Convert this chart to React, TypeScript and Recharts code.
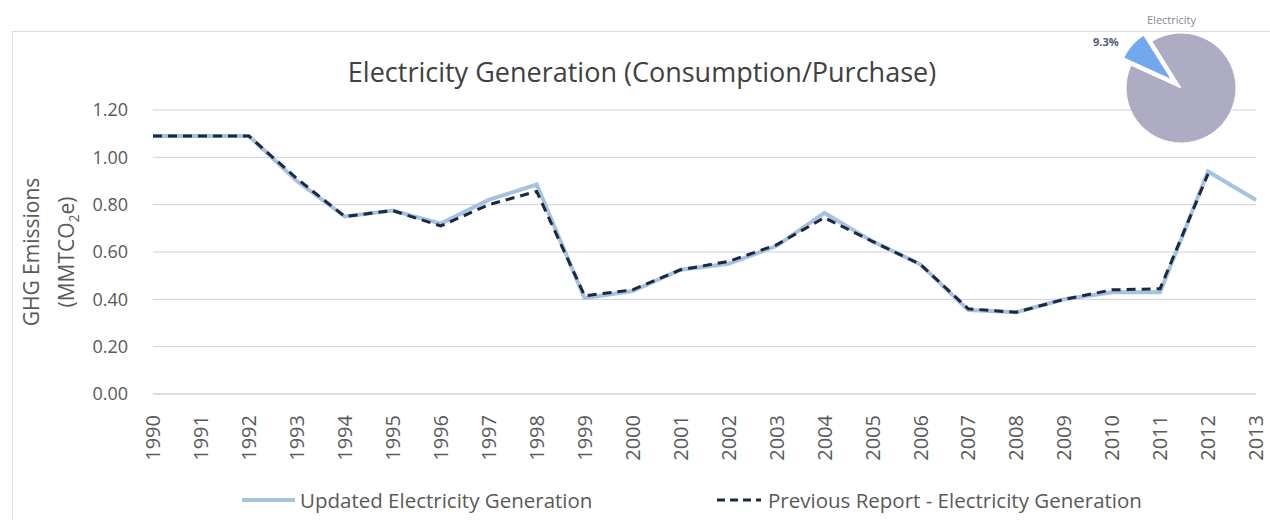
import React from 'react';
import { LineChart, Line, XAxis, YAxis, CartesianGrid, Legend, PieChart, Pie, Cell } from 'recharts';

const years = ['1990','1991','1992','1993','1994','1995','1996','1997','1998','1999','2000','2001','2002','2003','2004','2005','2006','2007','2008','2009','2010','2011','2012','2013'];
const updatedValues = [1.09,1.09,1.09,0.90,0.75,0.775,0.72,0.82,0.885,0.405,0.435,0.525,0.55,0.625,0.765,0.645,0.548,0.355,0.345,0.40,0.43,0.43,0.94,0.82];
const previousValues: (number | null)[] = [1.09,1.09,1.09,0.91,0.75,0.775,0.71,0.80,0.856,0.415,0.44,0.525,0.56,0.63,0.745,0.645,0.548,0.36,0.345,0.40,0.44,0.445,0.93,null];
const yTicks = [0, 0.2, 0.4, 0.6, 0.8, 1.0, 1.2];
const seriesNames = ['Updated Electricity Generation', 'Previous Report - Electricity Generation'];
const pieNames = ['Electricity', 'Other'];
const pieValues = [9.3, 90.7];

const FONT = '"Open Sans", "DejaVu Sans", sans-serif';
const UPDATED_COLOR = '#a6c2e2';
const PREVIOUS_COLOR = '#1c2840';

const data = years.map((y, i) => ({ year: y, updated: updatedValues[i], previous: previousValues[i] }));
const pieData = pieNames.map((n, i) => ({ name: n, value: pieValues[i] }));

const XTick = (props: any) => {
  const { x, y, payload } = props;
  return (
    <g transform={`translate(${x},${y})`}>
      <text transform="rotate(-90)" x={-21} y={0} dy="0.36em" textAnchor="end" fill="#595959" fontSize={20} fontFamily={FONT}>
        {payload.value}
      </text>
    </g>
  );
};

const LegendContent = (props: any) => {
  const { payload } = props;
  const items = payload || [];
  const order = ['updated', 'previous'];
  const pos = [{ line: 242, len: 53, text: 300 }, { line: 717, len: 44, text: 768 }];
  return (
    <div style={{ position: 'relative', width: 1270, height: 40, fontFamily: FONT, fontSize: 20.5, color: '#595959' }}>
      {order.map((key, i) => {
        const it = items.find((p: any) => p.dataKey === key);
        if (!it) return null;
        return (
          <div key={key}>
            <svg style={{ position: 'absolute', left: pos[i].line, top: 12 }} width={pos[i].len} height={16}>
              <line x1={0} y1={8} x2={pos[i].len} y2={8} stroke={it.color} strokeWidth={i === 0 ? 4 : 3} strokeDasharray={i === 0 ? undefined : '8 5'} />
            </svg>
            <span style={{ position: 'absolute', left: pos[i].text, top: 6, whiteSpace: 'nowrap', lineHeight: '28px' }}>{it.value}</span>
          </div>
        );
      })}
    </div>
  );
};

export default function App() {
  return (
    <div style={{ position: 'absolute', left: 0, top: 0, width: 1270, height: 520, background: '#fff', overflow: 'hidden' }}>
      <div style={{ position: 'absolute', left: 12, top: 31, width: 1258, height: 489, borderLeft: '1px solid #dcdcdc', borderTop: '1px solid #dcdcdc' }} />
      <div style={{ position: 'absolute', left: 292, top: 55, width: 700, textAlign: 'center', fontFamily: FONT, fontSize: 27, lineHeight: '34px', color: '#404040', whiteSpace: 'nowrap' }}>
        Electricity Generation (Consumption/Purchase)
      </div>
      <div style={{ position: 'absolute', left: 0, top: 0 }}>
        <LineChart width={1270} height={520} data={data} margin={{ top: 110, right: 14, bottom: 0, left: 0 }}>
          <CartesianGrid vertical={false} stroke="#cfcfdc" />
          <XAxis dataKey="year" height={86} tick={<XTick />} tickLine={false} tickSize={0} tickMargin={0} axisLine={{ stroke: '#cfcfdc' }} interval={0} />
          <YAxis width={153} domain={[0, 1.2]} ticks={yTicks} tickFormatter={(v: number) => v.toFixed(2)} axisLine={false} tickLine={false} tickSize={0} tickMargin={25} tick={{ fill: '#595959', fontSize: 18, fontFamily: FONT }} />
          <Legend verticalAlign="bottom" height={40} content={<LegendContent />} wrapperStyle={{ left: 0, width: 1270, height: 40 }} />
          <Line type="linear" dataKey="updated" name={seriesNames[0]} stroke={UPDATED_COLOR} strokeWidth={4} dot={false} isAnimationActive={false} />
          <Line type="linear" dataKey="previous" name={seriesNames[1]} stroke={PREVIOUS_COLOR} strokeWidth={3} strokeDasharray="9 6" dot={false} isAnimationActive={false} />
        </LineChart>
      </div>
      <svg style={{ position: 'absolute', left: 0, top: 0, pointerEvents: 'none' }} width={100} height={520}>
        <text transform="rotate(-90, 32, 252)" x={32} y={252} dy="0.35em" textAnchor="middle" fill="#595959" fontSize={21} fontFamily={FONT}>GHG Emissions</text>
        <text transform="rotate(-90, 67, 252)" x={67} y={252} dy="0.35em" textAnchor="middle" fill="#595959" fontSize={21} fontFamily={FONT}>
          <tspan>(MMTCO</tspan><tspan fontSize={14} dy={5}>2</tspan><tspan dy={-5}>e)</tspan>
        </text>
      </svg>
      <div style={{ position: 'absolute', left: 1101, top: 13 }}>
        <PieChart width={160} height={150} margin={{ top: 0, right: 0, bottom: 0, left: 0 }}>
          <Pie data={pieData} dataKey="value" nameKey="name" cx={80} cy={75} outerRadius={55} startAngle={122} endAngle={482} stroke="#ffffff" strokeWidth={1} isAnimationActive={false}>
            {pieData.map((d, i) => <Cell key={d.name} fill={i === 0 ? 'transparent' : '#aeacc2'} stroke={i === 0 ? 'none' : '#ffffff'} />)}
          </Pie>
          <Pie data={pieData} dataKey="value" nameKey="name" cx={72} cy={68} outerRadius={55} startAngle={122} endAngle={482} isAnimationActive={false}>
            {pieData.map((d, i) => <Cell key={d.name} fill={i === 0 ? '#72a8ee' : 'transparent'} stroke={i === 0 ? '#ffffff' : 'none'} strokeWidth={2} />)}
          </Pie>
        </PieChart>
      </div>
      <div style={{ position: 'absolute', left: 1147, top: 12, fontFamily: FONT, fontSize: 11, color: '#7f8796', whiteSpace: 'nowrap' }}>{pieNames[0]}</div>
      <div style={{ position: 'absolute', left: 1093, top: 34, fontFamily: FONT, fontSize: 11, fontWeight: 700, color: '#4f5b7a', whiteSpace: 'nowrap' }}>{pieValues[0]}%</div>
    </div>
  );
}
